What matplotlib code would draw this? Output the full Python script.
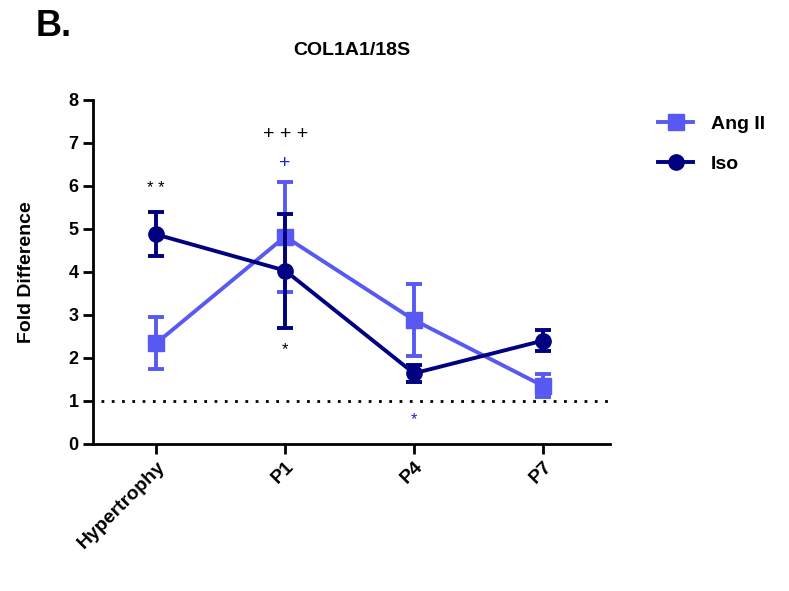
import matplotlib.pyplot as plt
import numpy as np

plt.rcParams['font.family'] = ['Liberation Sans', 'DejaVu Sans']
plt.rcParams['font.weight'] = 'bold'

categories = ['Hypertrophy', 'P1', 'P4', 'P7']
ang_mean = [2.34, 4.82, 2.88, 1.35]
ang_upper = [2.96, 6.10, 3.71, 1.63]
ang_lower = [1.74, 3.52, 2.05, 1.10]
iso_mean = [4.87, 4.03, 1.64, 2.40]
iso_upper = [5.40, 5.35, 1.84, 2.65]
iso_lower = [4.36, 2.70, 1.43, 2.17]

# significance marks: (category index, y, text, colour, size)
marks = [(0, 5.95, '* *', 'black', 12), (1, 7.19, '+ + +', 'black', 14),
         (1, 6.51, '+', '#2020e0', 14), (1, 2.2, '*', 'black', 12), (2, 0.56, '*', '#2020e0', 12)]

ang_col = '#5858f2'
iso_col = '#000080'

fig = plt.figure(figsize=(7.89, 5.91), dpi=100)
ax = fig.add_axes([0.118, 0.249, 0.655, 0.582])
x = np.arange(len(categories))

ax.axhline(1, color='black', linestyle=(0, (1, 2.7)), lw=2, xmin=0.015, zorder=1)

ang_err = [np.array(ang_mean) - np.array(ang_lower), np.array(ang_upper) - np.array(ang_mean)]
iso_err = [np.array(iso_mean) - np.array(iso_lower), np.array(iso_upper) - np.array(iso_mean)]

ax.errorbar(x, ang_mean, yerr=ang_err, color=ang_col, marker='s', ms=11, lw=2.8,
            elinewidth=2.8, capsize=6, capthick=2.8, label='Ang II', zorder=3)
ax.errorbar(x, iso_mean, yerr=iso_err, color=iso_col, marker='o', ms=11, lw=2.8,
            elinewidth=2.8, capsize=6, capthick=2.8, label='Iso', zorder=4)

for i, yv, t, c, fs in marks:
    ax.text(i, yv, t, ha='center', va='center', fontsize=fs, color=c, fontweight='normal')

ax.set_xlim(-0.49, 3.52)
ax.set_ylim(0, 8)
ax.set_yticks(range(0, 9))
ax.set_xticks(x)
ax.set_xticklabels(categories, rotation=45, ha='right', rotation_mode='anchor',
                   fontsize=14, fontweight='bold')
ax.tick_params(axis='both', direction='out', width=2, length=7, labelsize=13)
ax.tick_params(axis='x', labelsize=14)
for lab in ax.get_yticklabels():
    lab.set_fontweight('bold')
for s in ['top', 'right']:
    ax.spines[s].set_visible(False)
for s in ['left', 'bottom']:
    ax.spines[s].set_linewidth(2)

ax.set_ylabel('Fold Difference', fontsize=14, fontweight='bold', labelpad=24)
ax.set_title('COL1A1/18S', fontsize=14, fontweight='bold', pad=32)

fig.text(0.045, 0.955, 'B.', fontsize=26, fontweight='bold', va='center', ha='left')

handles, labels = ax.get_legend_handles_labels()
handles = [h[0] for h in handles]
fig.legend(handles, labels, loc='upper left', bbox_to_anchor=(0.812, 0.834), frameon=False,
           prop={'weight': 'bold', 'size': 14}, handlelength=1.8, labelspacing=1.15,
           handletextpad=0.9)

fig.savefig('out.png', dpi=100)
